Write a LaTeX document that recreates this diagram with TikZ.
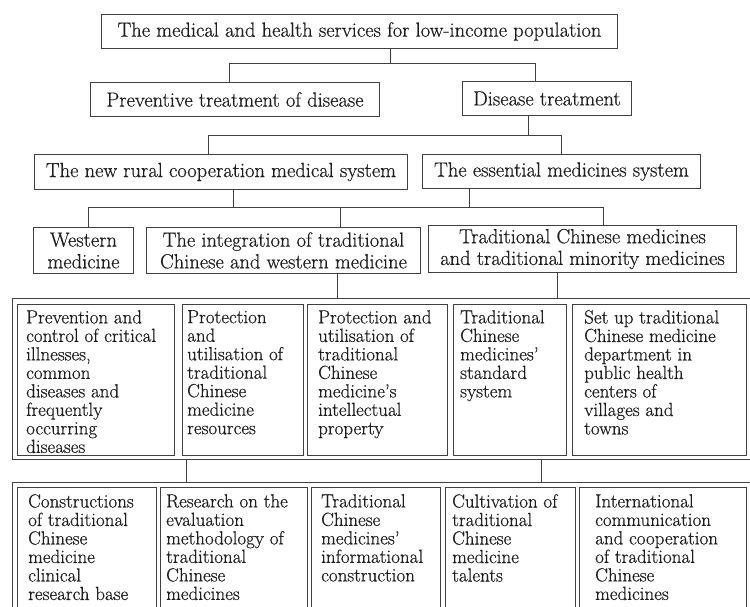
\documentclass[tikz,border=0pt]{standalone}
\usepackage{fontspec}
\setmainfont{Latin Modern Roman}[UprightFeatures={FakeBold=0.5}]
\usetikzlibrary{calc}
\definecolor{ln}{HTML}{404040}
\definecolor{tx}{HTML}{1E1E1E}
\tikzset{
  box/.style={draw=ln, line width=1pt, rectangle, inner sep=0pt, anchor=north west, align=center, text=tx,
    font=\fontsize{20.5}{21.7}\selectfont},
  txt/.style={inner sep=0pt, anchor=north west, align=left, text=tx,
    font=\fontsize{19}{18.5}\selectfont},
  conn/.style={draw=ln, line width=1pt}
}
\newcommand\BX[6]{\node[box, minimum width=#4pt-#2pt, minimum height=#5pt-#3pt] (#1) at (#2,#3) {#6};}
\begin{document}
\begin{tikzpicture}[x=1pt,y=-1pt]
\clip (0,0) rectangle (750,606);
\fill[white] (0,0) rectangle (750,606);
% row 1-3
\BX{top}{101}{14}{617}{48}{The medical and health services for low-income population}
\BX{prev}{90}{82}{379}{116}{Preventive treatment of disease}
\BX{dis}{462}{81}{631}{115}{Disease treatment}
\BX{rural}{34}{154}{407}{189}{The new rural cooperation medical system}
\BX{ess}{422}{154}{700}{188}{The essential medicines system}
\BX{west}{33}{227}{133}{273}{Western\\medicine}
\BX{integ}{146}{227}{420}{273}{The integration of traditional\\Chinese and western medicine}
\BX{trad}{428}{225}{736}{272}{Traditional Chinese medicines\\and traditional minority medicines}
% row 4
\BX{fr4}{12}{298}{749.5}{459}{}
\BX{a}{17}{304}{174}{455}{}
\BX{b}{182}{304}{303}{455}{}
\BX{c}{307}{304}{447}{455}{}
\BX{d}{453}{304}{566}{455}{}
\BX{e}{572}{304}{746}{455}{}
\node[txt] (ta) at ($(a.north west)+(9,6)$) {Prevention and\\control of critical\\illnesses,\\common\\diseases and\\frequently\\occurring\\diseases};
\node[txt] (tb) at ($(b.north west)+(5,6)$) {Protection\\and\\utilisation of\\traditional\\Chinese\\medicine\\resources};
\node[txt] (tc) at ($(c.north west)+(11,6)$) {Protection and\\utilisation of\\traditional\\Chinese\\medicine's\\intellectual\\property};
\node[txt] (td) at ($(d.north west)+(7,6)$) {Traditional\\Chinese\\medicines'\\standard\\system};
\node[txt] (te) at ($(e.north west)+(12,6)$) {Set up traditional\\Chinese medicine\\department in\\public health\\centers of\\villages and\\towns};
% row 5
\BX{fr5}{12}{482}{749.5}{615}{}
\BX{f}{17}{487}{156}{612}{}
\BX{g}{160}{487}{307}{612}{}
\BX{h}{311}{487}{440}{612}{}
\BX{i}{445}{487}{575}{612}{}
\BX{j}{579}{487}{746}{612}{}
\node[txt] (tf) at ($(f.north west)+(11,7)$) {Constructions\\of traditional\\Chinese\\medicine\\clinical\\research base};
\node[txt] (tg) at ($(g.north west)+(6,7)$) {Research on the\\evaluation\\methodology of\\traditional\\Chinese\\medicines};
\node[txt] (th) at ($(h.north west)+(10,7)$) {Traditional\\Chinese\\medicines'\\informational\\construction};
\node[txt] (ti) at ($(i.north west)+(7,7)$) {Cultivation of\\traditional\\Chinese\\medicine\\talents};
\node[txt] (tj) at ($(j.north west)+(16,7)$) {International\\communication\\and cooperation\\of traditional\\Chinese\\medicines};
% connector joints
\coordinate (j1) at (390,63);
\coordinate (b1) at (229,63);
\coordinate (b2) at (535,63);
\coordinate (j2) at (528,135);
\coordinate (c1) at (208,135);
\coordinate (c2) at (561,135);
\coordinate (d1) at (88,207);
\coordinate (d2) at (340,207);
\coordinate (d3) at (603,207);
\coordinate (j3a) at (233,207);
\coordinate (j3b) at (469,207);
\coordinate (e1) at (337,285);
\coordinate (e2) at (557,285);
\coordinate (f1) at (186,470);
\coordinate (f2) at (541,470);
% connectors
\draw[conn] (j1 |- top.south) -- (j1);
\draw[conn] (b1 |- prev.north) -- (b1) -- (b2) -- (b2 |- dis.north);
\draw[conn] (j2 |- dis.south) -- (j2);
\draw[conn] (c1 |- rural.north) -- (c1) -- (c2) -- (c2 |- ess.north);
\draw[conn] (j3a |- rural.south) -- (j3a);
\draw[conn] (j3b |- ess.south) -- (j3b);
\draw[conn] (d1 |- west.north) -- (d1) -- (d3) -- (d3 |- trad.north);
\draw[conn] (d2) -- (d2 |- integ.north);
\draw[conn] (e1 |- integ.south) -- (e1 |- fr4.north);
\draw[conn] (e2 |- trad.south) -- (e2 |- fr4.north);
\draw[conn] (f1 |- fr4.south) -- (f1 |- fr5.north);
\draw[conn] (f2 |- fr4.south) -- (f2 |- fr5.north);
\end{tikzpicture}
\end{document}
